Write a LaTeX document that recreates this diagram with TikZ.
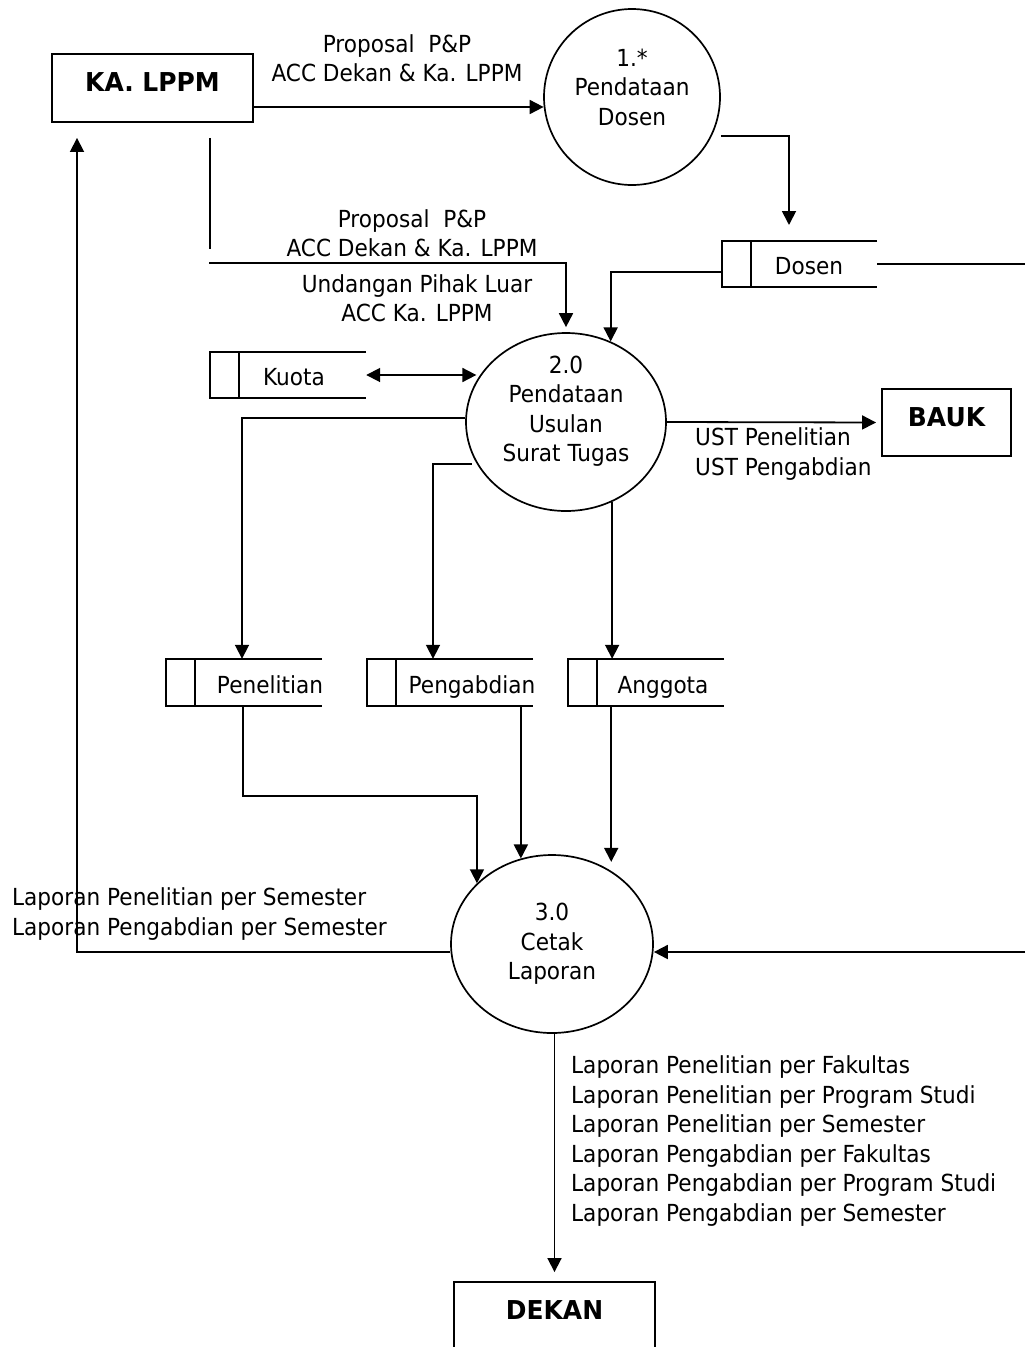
\documentclass[tikz,border=0pt]{standalone}
\usepackage{fontspec}
\setmainfont{DejaVu Sans}[FakeStretch=0.92]
\newfontfamily\titlefont{DejaVu Sans}[FakeStretch=0.96]
\usetikzlibrary{arrows.meta,shapes.geometric}
\newcommand\shtext[2]{\makebox[0pt]{\hspace*{#1}#2}}
\begin{document}
\begin{tikzpicture}[x=1pt,y=-1pt,
  every node/.style={inner sep=0pt, font=\fontsize{23.5}{29.5}\selectfont},
  lbl/.style={align=center},
  lbll/.style={align=left, anchor=west},
  ext/.style={draw, line width=1.9pt, minimum width=201pt, minimum height=68pt,
    font=\titlefont\bfseries\fontsize{26}{30}\selectfont, text height=18pt, text depth=11pt},
  proc/.style={draw, line width=1.7pt},
  store/.style={minimum height=46pt, text height=21pt, text depth=0pt},
  sbox/.style={line width=1.8pt},
  ln/.style={line width=1.8pt},
  arr/.style={line width=1.8pt, -{Triangle[length=14pt,width=14pt]}},
  dbl/.style={line width=1.8pt, {Triangle[length=14pt,width=14pt]}-{Triangle[length=14pt,width=14pt]}}
]
\useasboundingbox (0,0) rectangle (1027,1347);
\clip (0,0) rectangle (1027,1347);

% external entities
\node[ext] (ka) at (152.5,88) {KA. LPPM};
\node[ext, minimum width=129pt, minimum height=67pt] (bauk) at (946.5,422.5) {BAUK};
\node[ext, minimum height=67pt] (dekan) at (554.5,1315.5) {DEKAN};

% processes
\node[proc, circle, minimum size=176pt] (p1) at (632,97) {};
\node[proc, ellipse, minimum width=200pt, minimum height=178pt] (p2) at (566,422) {};
\node[proc, ellipse, minimum width=202pt, minimum height=178pt] (p3) at (552,944) {};
\node[lbl] (p1t) at (632,87) {1.*\\Pendataan\\Dosen};
\node[lbl] (p2t) at (566,411) {2.0\\Pendataan\\Usulan\\Surat Tugas};
\node[lbl] (p3t) at (552,944) {3.0\\Cetak\\Laporan};

% data stores
\node[store, minimum width=127pt] (kuota) at (302.5,375) {\shtext{-17pt}{Kuota}};
\node[store, minimum width=126pt] (dosen) at (814,264) {\shtext{-10pt}{Dosen}};
\node[store, minimum width=127pt, minimum height=47pt] (pen) at (258.5,682.5) {\shtext{23pt}{Penelitian}};
\node[store, minimum width=137pt, minimum height=47pt] (peng) at (464.5,682.5) {\shtext{15pt}{Pengabdian}};
\node[store, minimum width=127pt, minimum height=47pt] (ang) at (660.5,682.5) {\shtext{5pt}{Anggota}};
\foreach \s in {kuota,dosen,pen,peng,ang}{
  \draw[sbox] (\s.north east) -- (\s.north west) -- ([xshift=-29pt]\s.north west)
     -- ([xshift=-29pt]\s.south west) -- (\s.south east);
  \draw[sbox] (\s.north west) -- (\s.south west);
}

% labels
\node[lbl] (l1) at (397,58) {Proposal\ \ P\&P\\ACC Dekan \& Ka. LPPM};
\node[lbl] (l2) at (412,233) {Proposal\ \ P\&P\\ACC Dekan \& Ka. LPPM};
\node[lbl] (l3) at (417,298) {Undangan Pihak Luar\\ACC Ka. LPPM};
\node[lbll] (l4) at (695,454) {UST Penelitian\\UST Pengabdian};
\node[lbll] (l5) at (12,914) {Laporan Penelitian per Semester\\Laporan Pengabdian per Semester};
\node[lbll] (l6) at (571,1141) {Laporan Penelitian per Fakultas\\Laporan Penelitian per Program Studi\\Laporan Penelitian per Semester\\Laporan Pengabdian per Fakultas\\Laporan Pengabdian per Program Studi\\Laporan Pengabdian per Semester};

% free ends
\coordinate (dIn) at (789,225);
\coordinate (kq) at (209,263);
\coordinate (eR1) at (1025,264);
\coordinate (eR2) at (1025,952);

% connectors
\draw[arr] ([yshift=-19pt]ka.east) -- ([yshift=-19pt]ka.east -| p1.186);
\draw[arr] ([xshift=9pt]p1.-26) -| (dIn);
\draw[ln] (dosen.east) -- (eR1);
\draw[arr] ([xshift=-29pt,yshift=-8pt]dosen.west) -| (p2.61);
\draw[ln] ([xshift=57.5pt,yshift=-15pt]ka.south) -- ([xshift=57.5pt,yshift=-126pt]ka.south);
\draw[arr] (kq) -| ([yshift=5pt]p2.north);
\draw[dbl, shorten >=4pt] (kuota.east) -- (kuota.east -| p2.151);
\draw[arr, shorten >=5pt] (p2.east) -- (bauk.west);
\draw[arr] ([yshift=4pt]p2.west) -| ([xshift=-16.5pt]pen.north);
\draw[arr] ([xshift=-5pt]p2.205) -| ([xshift=-31.5pt]peng.north);
\draw[arr] (p2.-60.5) -- (p2.-60.5 |- ang.north);
\draw[arr] ([xshift=-15.5pt]pen.south) -- ++(0,90) -| (p3.141);
\draw[arr] (p3.110 |- peng.south) -- (p3.110);
\draw[arr, shorten >=9pt] (p3.51.5 |- ang.south) -- (p3.51.5);
\draw[arr] ([yshift=-8pt]p3.west) -| ([xshift=-75.5pt,yshift=-15pt]ka.south);
\draw[arr] (eR2) -- ([yshift=-8pt]p3.east);
\draw[arr] (p3.south -| dekan.north) -- ([yshift=9pt]dekan.north);
\end{tikzpicture}
\end{document}
